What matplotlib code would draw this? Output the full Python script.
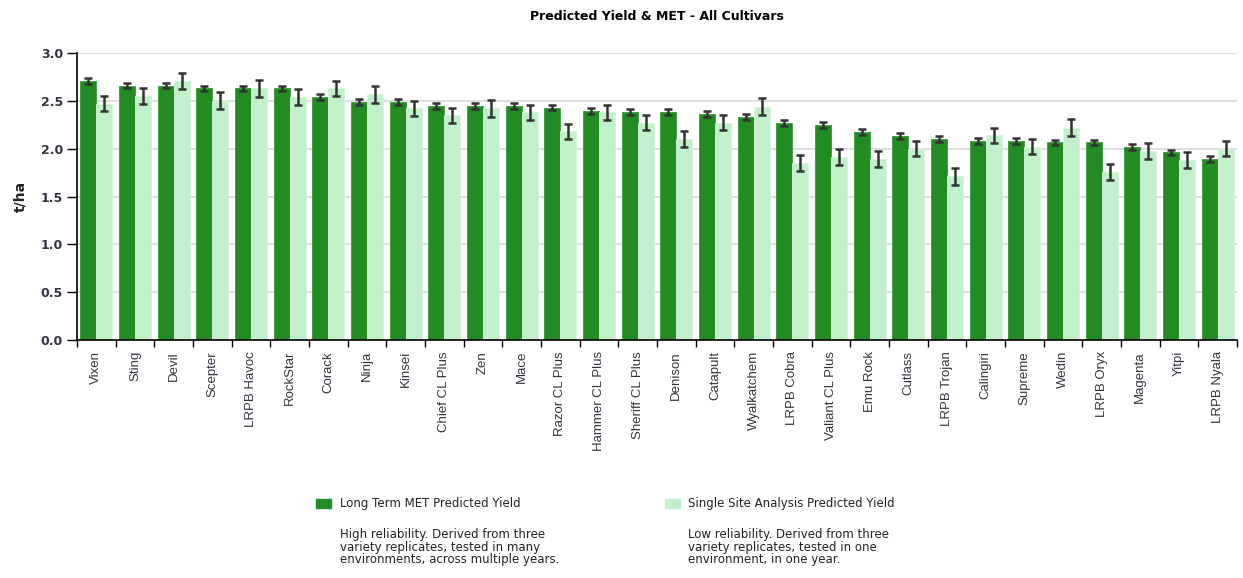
import numpy as np
import matplotlib.pyplot as plt

cultivars = ["Vixen", "Sting", "Devil", "Scepter", "LRPB Havoc", "RockStar", "Corack",
             "Ninja", "Kinsei", "Chief CL Plus", "Zen", "Mace", "Razor CL Plus",
             "Hammer CL Plus", "Sheriff CL Plus", "Denison", "Catapult", "Wyalkatchem",
             "LRPB Cobra", "Valiant CL Plus", "Emu Rock", "Cutlass", "LRPB Trojan",
             "Calingiri", "Supreme", "Wedin", "LRPB Oryx", "Magenta", "Yitpi", "LRPB Nyala"]

met_yield = [2.71, 2.66, 2.66, 2.63, 2.63, 2.63, 2.54, 2.49, 2.49, 2.445, 2.445, 2.445,
             2.43, 2.39, 2.38, 2.38, 2.365, 2.33, 2.27, 2.25, 2.175, 2.13, 2.10, 2.08,
             2.08, 2.065, 2.065, 2.02, 1.96, 1.895]
site_yield = [2.47, 2.55, 2.71, 2.50, 2.63, 2.54, 2.63, 2.57, 2.42, 2.35, 2.42, 2.38,
              2.18, 2.38, 2.27, 2.10, 2.27, 2.44, 1.85, 1.91, 1.89, 2.00, 1.71, 2.14,
              2.02, 2.22, 1.755, 1.975, 1.88, 2.00]
met_err = [0.03] * 30
site_err = [0.08, 0.08, 0.085, 0.09, 0.085, 0.08, 0.08, 0.09, 0.08, 0.08, 0.085, 0.08,
            0.08, 0.08, 0.08, 0.08, 0.08, 0.085, 0.08, 0.085, 0.085, 0.08, 0.085, 0.08,
            0.08, 0.085, 0.08, 0.08, 0.08, 0.08]

n = len(cultivars)

dark = "#228B22"
light = "#C1F0CA"
txt = "#333340"

fig = plt.figure(figsize=(12.43, 5.78), dpi=100)
ax = fig.add_axes([77 / 1243, 1 - 340 / 578, 1160 / 1243, 287 / 578])

x = np.arange(n)
w = 0.415
ax.bar(x - w / 2, met_yield, w, color=dark, edgecolor="#3a9a3a", linewidth=0.6, zorder=2)
ax.bar(x + w / 2, site_yield, w, color=light, edgecolor="#d6f6dc", linewidth=0.6, zorder=2)
ax.errorbar(x - w / 2, met_yield, yerr=met_err, fmt="none", ecolor="#333333",
            elinewidth=1.8, capsize=3.2, capthick=1.8, zorder=3)
ax.errorbar(x + w / 2, site_yield, yerr=site_err, fmt="none", ecolor="#333333",
            elinewidth=1.8, capsize=3.2, capthick=1.8, zorder=3)

ax.set_xlim(-0.5, n - 0.5)
ax.set_ylim(0, 3.0)
yt = np.arange(0, 3.01, 0.5)
ax.set_yticks(yt)
ax.set_yticklabels([f"{v:.1f}" for v in yt], fontsize=9, fontweight="bold", color=txt)
ax.yaxis.grid(True, color="#d9d9d9", linewidth=1.2, zorder=0)
ax.set_axisbelow(True)

ax.set_xticks(x)
ax.set_xticklabels(cultivars, rotation=90, fontsize=9.5, family="Liberation Sans", color=txt)
ax.set_xticks(np.arange(-0.5, n, 1.0), minor=True)
ax.tick_params(axis="x", which="major", length=0, pad=8)
ax.tick_params(axis="x", which="minor", length=5, width=1, color="black")
ax.tick_params(axis="y", length=7, width=1, pad=3)

for s in ["top", "right"]:
    ax.spines[s].set_visible(False)
ax.spines["left"].set_linewidth(1.2)
ax.spines["bottom"].set_linewidth(1.2)

ax.set_ylabel("t/ha", fontsize=10, fontweight="bold", labelpad=10, color="#222222")
fig.text(657 / 1243, 1 - 16 / 578, "Predicted Yield & MET - All Cultivars",
         ha="center", va="center", fontsize=9, fontweight="bold")

# legend drawn as figure patches and text
fig.patches.append(plt.Rectangle((316 / 1243, 1 - 508 / 578), 15 / 1243, 9 / 578,
                                 transform=fig.transFigure, color=dark))
fig.text(340 / 1243, 1 - 503 / 578, "Long Term MET Predicted Yield", fontsize=8.5,
         va="center", color="#222222")
fig.text(340 / 1243, 1 - 528 / 578,
         "High reliability. Derived from three\nvariety replicates, tested in many\n"
         "environments, across multiple years.",
         fontsize=8.5, va="top", color="#222222", linespacing=0.95)

fig.patches.append(plt.Rectangle((665 / 1243, 1 - 508 / 578), 15 / 1243, 9 / 578,
                                 transform=fig.transFigure, color=light))
fig.text(688 / 1243, 1 - 503 / 578, "Single Site Analysis Predicted Yield", fontsize=8.5,
         va="center", color="#222222")
fig.text(688 / 1243, 1 - 528 / 578,
         "Low reliability. Derived from three\nvariety replicates, tested in one\n"
         "environment, in one year.",
         fontsize=8.5, va="top", color="#222222", linespacing=0.95)

fig.savefig("out.png", dpi=100)
